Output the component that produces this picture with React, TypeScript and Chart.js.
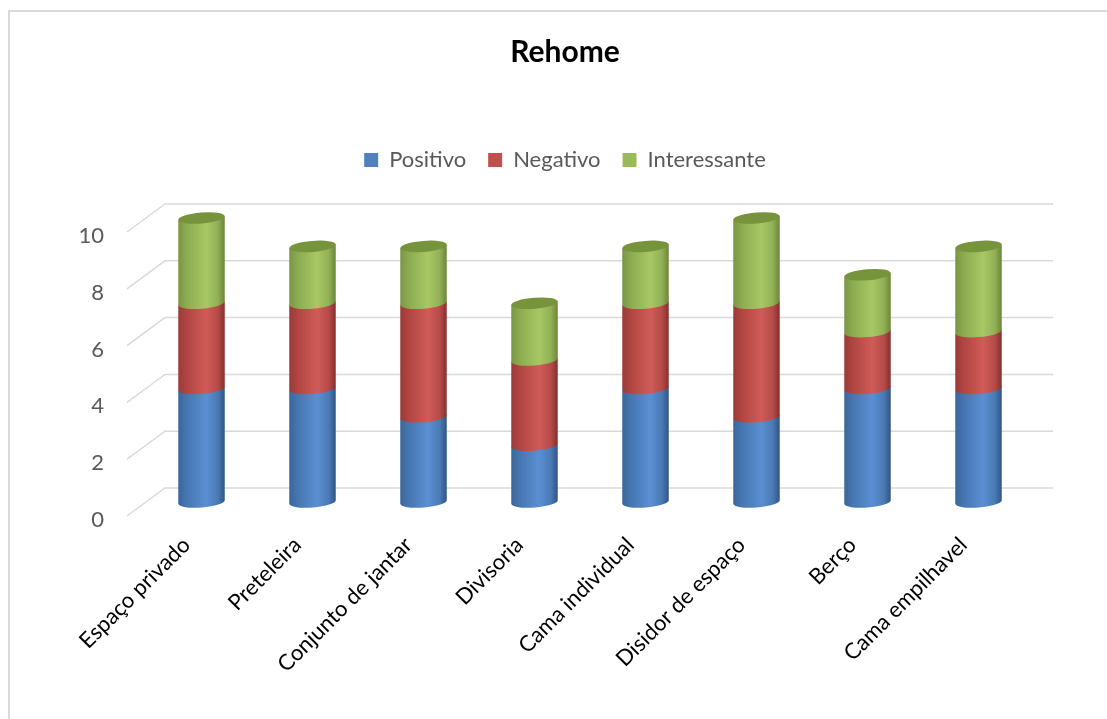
import React, { useEffect, useRef } from 'react';
import { Chart, registerables } from 'chart.js';

Chart.register(...registerables);

const categories = [
  'Espaço privado',
  'Preteleira',
  'Conjunto de jantar',
  'Divisoria',
  'Cama individual',
  'Disidor de espaço',
  'Berço',
  'Cama empilhavel',
];
const positivo = [4, 4, 3, 2, 4, 3, 4, 4];
const negativo = [3, 3, 4, 3, 3, 4, 2, 2];
const interessante = [3, 2, 2, 2, 2, 3, 2, 3];
const seriesLabels = ['Positivo', 'Negativo', 'Interessante'];
const yTickValues = [0, 2, 4, 6, 8, 10];

// styles
const seriesColors = ['#4F81BD', '#C0504D', '#9BBB59'];
const seriesGradients = [
  ['#3a6699', '#4676b1', '#5b8fd3', '#4a7ab5', '#2f5483'],
  ['#9a3a37', '#b04542', '#d05b57', '#b54b48', '#862f2d'],
  ['#7a9544', '#8cab50', '#a7c864', '#92b056', '#6b8538'],
];
const capColors = ['#3f6ca3', '#a5403d', '#77933c'];
const FONT = 'Lato, "Open Sans", sans-serif';
const CANVAS_W = 1130;
const CANVAS_H = 719;
const DX = 19;
const DY = 14;
const TILT = -0.08;

function segmentPath(ctx: CanvasRenderingContext2D, cx: number, rx: number, ry: number, yTop: number, yBase: number) {
  const c = Math.cos(TILT);
  const s = Math.sin(TILT);
  ctx.beginPath();
  ctx.moveTo(cx - rx * c, yTop - rx * s);
  ctx.lineTo(cx - rx * c, yBase - rx * s);
  ctx.ellipse(cx, yBase, rx, ry, TILT, Math.PI, 0, true);
  ctx.lineTo(cx + rx * c, yTop + rx * s);
  ctx.closePath();
}

const cylinder3D = {
  id: 'cylinder3D',
  beforeDatasetsDraw(chart: any) {
    const { ctx, chartArea, scales } = chart;
    const yScale = scales.y;
    ctx.save();
    // 3D grid: side diagonals + back wall lines
    ctx.strokeStyle = '#d9d9d9';
    ctx.lineWidth = 1.5;
    yTickValues.forEach((v) => {
      const py = yScale.getPixelForValue(v);
      ctx.beginPath();
      ctx.moveTo(chartArea.left - DX, py + DY);
      ctx.lineTo(chartArea.left + DX, py - DY);
      ctx.lineTo(chartArea.right + DX, py - DY);
      ctx.stroke();
    });
    const metas = chart.data.datasets.map((_: any, i: number) => chart.getDatasetMeta(i));
    for (let j = 0; j < categories.length; j++) {
      let topEl: any = null;
      let topIdx = 0;
      for (let i = 0; i < metas.length; i++) {
        const el = metas[i].data[j];
        if (!el) continue;
        const { x, y, base, width } = el.getProps(['x', 'y', 'base', 'width'], true);
        const rx = width / 2;
        const ry = 5.5;
        const g = ctx.createLinearGradient(x - rx, 0, x + rx, 0);
        const stops = seriesGradients[i];
        g.addColorStop(0, stops[0]);
        g.addColorStop(0.18, stops[1]);
        g.addColorStop(0.6, stops[2]);
        g.addColorStop(0.85, stops[3]);
        g.addColorStop(1, stops[4]);
        ctx.fillStyle = g;
        segmentPath(ctx, x, rx, ry, y, base);
        ctx.fill();
        topEl = { x, y, rx, ry };
        topIdx = i;
      }
      if (topEl) {
        ctx.fillStyle = capColors[topIdx];
        ctx.beginPath();
        ctx.ellipse(topEl.x, topEl.y, topEl.rx, topEl.ry, TILT, 0, Math.PI * 2);
        ctx.fill();
      }
    }
    ctx.restore();
    return false;
  },
};

const legendSpacer = {
  id: 'legendSpacer',
  beforeLayout(chart: any) {
    const legend = chart.legend;
    if (legend && !legend._spacerPatched) {
      const orig = legend.fit;
      legend.fit = function fit() {
        orig.call(this);
        this.height += 37;
      };
      legend._spacerPatched = true;
    }
  },
};

export default function App() {
  const canvasRef = useRef<HTMLCanvasElement | null>(null);

  useEffect(() => {
    if (!canvasRef.current) return;
    const chart = new Chart(canvasRef.current, {
      type: 'bar',
      data: {
        labels: categories,
        datasets: [positivo, negativo, interessante].map((d, i) => ({
          label: seriesLabels[i],
          data: d,
          backgroundColor: seriesColors[i],
          borderWidth: 0,
          barPercentage: 0.42,
          categoryPercentage: 1,
        })),
      },
      options: {
        animation: false,
        responsive: false,
        events: [],
        layout: { padding: 0 },
        plugins: {
          title: {
            display: true,
            text: 'Rehome',
            color: '#000',
            font: { family: FONT, size: 30, weight: 'bold' },
            padding: { top: 34, bottom: 57 },
          },
          legend: {
            display: true,
            position: 'top',
            labels: {
              color: '#595959',
              font: { family: FONT, size: 22 },
              boxWidth: 14,
              boxHeight: 14,
              padding: 22,
            },
          },
          tooltip: { enabled: false },
        },
        scales: {
          x: {
            stacked: true,
            grid: { display: false, drawTicks: false },
            border: { display: false },
            ticks: {
              autoSkip: false,
              maxRotation: 45,
              minRotation: 45,
              color: '#000',
              font: { family: FONT, size: 22 },
              padding: 30,
              labelOffset: -15,
            },
            afterFit: (scale: any) => {
              scale.height = 217;
            },
          },
          y: {
            stacked: true,
            min: 0,
            max: 10,
            grid: { display: false, drawTicks: false, tickLength: 0 },
            border: { display: false },
            ticks: {
              stepSize: 2,
              color: '#595959',
              font: { family: FONT, size: 22 },
              padding: 42,
              labelOffset: 18,
            },
            afterFit: (scale: any) => {
              scale.width = 146;
            },
          },
          spacer: {
            type: 'linear',
            position: 'right',
            display: true,
            grid: { display: false, drawTicks: false },
            border: { display: false },
            ticks: { display: false },
            afterFit: (scale: any) => {
              scale.width = CANVAS_W - 1034;
            },
          },
        },
      } as any,
      plugins: [cylinder3D, legendSpacer],
    });
    return () => chart.destroy();
  }, []);

  return (
    <div style={{ position: 'absolute', left: 0, top: 0, width: 1107, height: 719, overflow: 'hidden', background: '#fff' }}>
      <div
        style={{
          position: 'absolute',
          left: 8,
          top: 10,
          width: 1200,
          height: 800,
          borderTop: '2px solid #d9d9d9',
          borderLeft: '2px solid #d9d9d9',
          boxSizing: 'border-box',
        }}
      />
      <canvas
        ref={canvasRef}
        width={CANVAS_W}
        height={CANVAS_H}
        style={{ position: 'absolute', left: 0, top: 0, width: CANVAS_W, height: CANVAS_H }}
      />
    </div>
  );
}
